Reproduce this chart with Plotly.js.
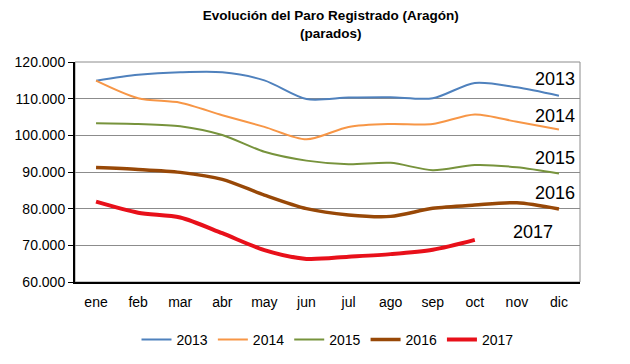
<!DOCTYPE html>
<html><head><meta charset="utf-8">
<script src="https://cdn.plot.ly/plotly-3.0.1.min.js"></script>
<style>html,body{margin:0;padding:0;background:#fff}#c{width:630px;height:364px}</style>
</head><body><div id="c"></div>
<script>
const months = ["ene","feb","mar","abr","may","jun","jul","ago","sep","oct","nov","dic"];
const y2013 = [114900,116500,117200,117200,115000,109900,110300,110400,110100,114300,113100,110800];
const y2014 = [114900,110100,108900,105500,102300,98900,102300,103100,103100,105700,103700,101600];
const y2015 = [103300,103100,102500,100100,95500,93100,92100,92500,90500,91900,91300,89600];
const y2016 = [91200,90700,89900,88000,83700,80000,78300,77900,80100,81000,81600,79900];
const y2017 = [81900,78900,77600,73300,68700,66300,66900,67600,68800,71500];
const seriesNames = ["2013","2014","2015","2016","2017"];
const seriesData = [y2013,y2014,y2015,y2016,y2017];
const colors = ["#4F81BD","#F79646","#77933C","#984807","#E8101A"];
const widths = [2,2,2,3.5,4];
const labelY = [115500,105400,93900,84300,73600];

const traces = seriesNames.map((n,i)=>({
  type:"scatter", mode:"lines", name:n,
  x: months.slice(0, seriesData[i].length), y: seriesData[i],
  line:{color:colors[i], width:widths[i], shape:"spline", smoothing:0.8}
}));

const ann = seriesNames.map((n,i)=>({
  text:n, xref:"paper", yref:"y", x: i===4 ? 0.95 : 0.995, y: labelY[i],
  xanchor:"right", yanchor:"middle", showarrow:false,
  font:{family:"Liberation Sans Narrow, Arial Narrow, sans-serif", size:18, color:"#000"}
}));

const layout = {
  width:630, height:364,
  margin:{l:75, r:50, t:62, b:82},
  paper_bgcolor:"#fff", plot_bgcolor:"#fff",
  separators:",.",
  title:{text:"<b>Evolución del Paro Registrado (Aragón)<br>(parados)</b>",
    x:0.525, xanchor:"center", y:0.945, yanchor:"top",
    font:{family:"Liberation Sans, Arial, sans-serif", size:13.5, color:"#000"}},
  xaxis:{type:"category", categoryorder:"array", categoryarray:months,
    range:[-0.5,11.5], showgrid:false, showline:true, linecolor:"#000", linewidth:2,
    ticks:"", zeroline:false, ticklabelstandoff:6, automargin:false,
    tickfont:{family:"Liberation Sans Narrow, Arial Narrow, sans-serif", size:14, color:"#000"}},
  yaxis:{range:[60000,120000], dtick:10000, tickformat:",.0f", automargin:false,
    showgrid:true, gridcolor:"#8c8c8c", gridwidth:1,
    showline:true, linecolor:"#000", linewidth:2, ticks:"outside", ticklen:5, tickcolor:"#000",
    zeroline:false,
    tickfont:{family:"Liberation Sans Narrow, Arial Narrow, sans-serif", size:14, color:"#000"}},
  shapes:[{type:"rect", xref:"paper", yref:"paper", x0:0, x1:1, y0:0, y1:1,
    line:{color:"#8c8c8c", width:1}, layer:"below"}],
  legend:{orientation:"h", x:0.5, xanchor:"center", yref:"container", y:0.066, yanchor:"middle",
    font:{family:"Liberation Sans Narrow, Arial Narrow, sans-serif", size:14, color:"#000"},
    itemwidth:30, tracegroupgap:0},
  annotations:ann,
  showlegend:true
};
Plotly.newPlot("c", traces, layout, {displayModeBar:false, staticPlot:true});
</script></body></html>
